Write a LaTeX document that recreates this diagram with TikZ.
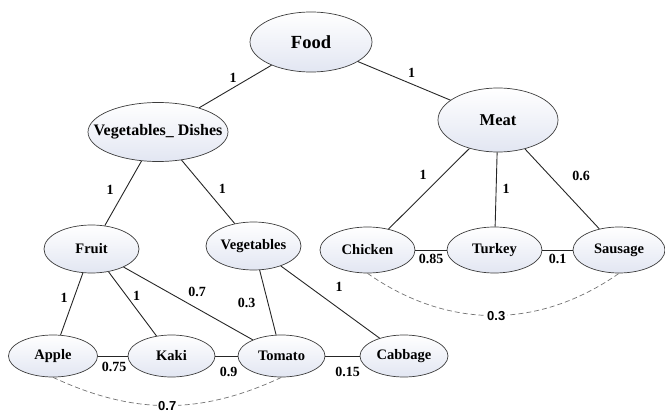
\documentclass[tikz,border=0pt]{standalone}
\usepackage{fontspec}
\setmainfont{Liberation Serif}
\newfontfamily\arialfont{Liberation Sans}
\usetikzlibrary{shapes.geometric,positioning}
\definecolor{cfill}{RGB}{226,230,242}
\definecolor{cline}{RGB}{60,60,60}
\definecolor{cdash}{RGB}{115,115,115}
\newcommand{\lnk}[4]{\path (#1) edge node[wt,#3] (#1#2) {#4} (#2); }
\newcommand{\ent}[6]{\node[concept,minimum width=#3pt,minimum height=#4pt,font=\bfseries\fontsize{#5}{#5}\selectfont] (#1) at (#2) {\makebox[0pt]{#6}}; }

\begin{document}
\begin{tikzpicture}[x=1pt,y=1pt,
  every edge/.style={draw=black!85,line width=0.9pt},
  concept/.style={ellipse,draw=cline,line width=0.7pt,top color=white,bottom color=cfill,inner sep=0pt},
  wt/.style={font=\bfseries\fontsize{14}{16}\selectfont,inner sep=3pt},
  dlbl/.style={font=\arialfont\bfseries\fontsize{13}{15}\selectfont,fill=white,inner sep=1.5pt}]
  \useasboundingbox (0,0) rectangle (665,-412);
  % concepts
  \ent{food}{311,-42}{122}{60}{18.5}{Food}
  \ent{vd}{158,-132}{140}{59}{16}{Vegetables\_ Dishes}
  \ent{meat}{498,-120}{120}{64}{16.5}{Meat}
  \ent{fruit}{91.5,-249}{95}{48}{14.5}{Fruit}
  \ent{veg}{253.5,-246}{95}{48}{14.5}{Vegetables}
  \ent{chicken}{367.5,-250}{95}{46}{14.5}{Chicken}
  \ent{turkey}{494.5,-250}{95}{46}{14.5}{Turkey}
  \ent{sausage}{619,-250}{92}{46}{14.5}{Sausage}
  \ent{apple}{53,-356}{89}{42}{14.5}{Apple}
  \ent{kaki}{171.5,-356}{87}{42}{14.5}{Kaki}
  \ent{tomato}{281.5,-356}{87}{42}{14.5}{Tomato}
  \ent{cabbage}{404,-356}{88}{42}{14.5}{Cabbage}
  % weighted links
  \lnk{food}{vd}{pos=.53,above=2pt}{1}
  \lnk{food}{meat}{pos=.58,above=3pt}{1}
  \lnk{vd}{fruit}{pos=.45,left=8pt}{1}
  \lnk{vd}{veg}{pos=.45,right=10pt}{1}
  \lnk{meat}{chicken}{pos=.46,above left=3pt}{1}
  \lnk{meat}{turkey}{pos=.49,right=3pt}{1}
  \lnk{meat}{sausage}{pos=.47,above right=2pt and 9pt}{0.6}
  \lnk{fruit}{apple}{pos=.4,left=3pt}{1}
  \lnk{fruit}{kaki}{pos=.38,right=3pt}{1}
  \lnk{fruit}{tomato}{pos=.47,above right=1pt}{0.7}
  \lnk{veg}{tomato}{pos=.5,left=9pt}{0.3}
  \lnk{veg}{cabbage}{pos=.5,above right=7pt and 2pt}{1}
  \lnk{apple}{kaki}{pos=.55,below=3pt}{0.75}
  \lnk{kaki}{tomato}{pos=.6,below=8pt}{0.9}
  \lnk{tomato}{cabbage}{pos=.65,below=8pt}{0.15}
  \lnk{chicken}{turkey}{pos=.5,below=1pt}{0.85}
  \lnk{turkey}{sausage}{pos=.5,below=1pt}{0.1}
  % similarity arcs
  \path (apple.south) edge[draw=cdash,line width=0.7pt,dash pattern=on 5pt off 3pt,bend right=25] node[dlbl] (appletomato) {0.7} (tomato.south);
  \path (chicken.south) edge[draw=cdash,line width=0.7pt,dash pattern=on 5pt off 3pt,bend right=35] node[dlbl,xshift=3pt] (chickensausage) {0.3} (sausage.south);
\end{tikzpicture}
\end{document}
